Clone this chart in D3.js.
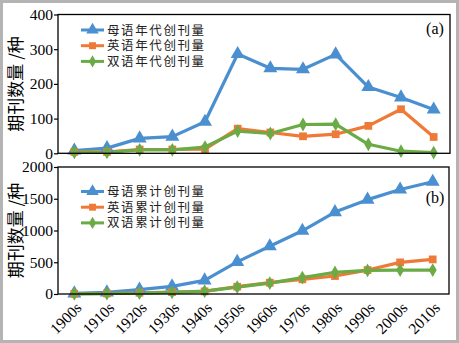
<!DOCTYPE html>
<html>
<head>
<meta charset="utf-8">
<script src="https://cdn.jsdelivr.net/npm/d3@7"></script>
<style>
  html, body { margin: 0; padding: 0; background: #fff; }
  svg { display: block; }
  .num { font-family: "Liberation Serif", "Times New Roman", "DejaVu Serif", serif; }
  .cjk { font-family: "Noto Sans CJK SC", sans-serif; }
</style>
</head>
<body>
<script>
// Decades on the shared x axis
const decades = ["1900s","1910s","1920s","1930s","1940s","1950s","1960s","1970s","1980s","1990s","2000s","2010s"];

// (a) journals founded per decade
const nativePerDecade    = [8, 15, 43, 48, 91, 286, 245, 242, 285, 191, 161, 126];
const englishPerDecade   = [4, 4, 11, 11, 12, 71, 60, 49, 55, 79, 127, 47];
const bilingualPerDecade = [3, 3, 10, 10, 18, 64, 57, 83, 84, 26, 6, 2];

// (b) cumulative journals founded
const nativeCumulative    = [10, 25, 70, 120, 215, 505, 752, 995, 1290, 1486, 1645, 1768];
const englishCumulative   = [4, 8, 19, 30, 42, 115, 178, 231, 283, 377, 498, 545];
const bilingualCumulative = [3, 6, 16, 26, 44, 108, 172, 258, 340, 372, 376, 377];

const ticksA = [0, 100, 200, 300, 400];
const ticksB = [0, 500, 1000, 1500, 2000];

const namesA = ["母语年代创刊量", "英语年代创刊量", "双语年代创刊量"];
const namesB = ["母语累计创刊量", "英语累计创刊量", "双语累计创刊量"];

const colors  = ["#4a8fd0", "#ef7a37", "#6aab45"];
const symbols = [d3.symbolTriangle, d3.symbolSquare, d3.symbolDiamond];
const symSize = [85, 60, 55];

const W = 459, H = 343;

const svg = d3.select("body").append("svg").attr("width", W).attr("height", H);

// outer grey frame
svg.append("rect").attr("x", 1.5).attr("y", 1.5).attr("width", W - 3).attr("height", H - 3)
  .attr("fill", "#fff").attr("stroke", "#b4b4b4").attr("stroke-width", 3);

function panel(opts) {
  const { left, right, top, bottom, max, ticks, series, names, tag, tagY, legendY, showX } = opts;
  const x = d3.scalePoint().domain(decades).range([left, right]).padding(0.5);
  const y = d3.scaleLinear().domain([0, max]).range([bottom, top]);
  const g = svg.append("g");

  // y axis
  const ya = g.append("g").attr("transform", `translate(${left},0)`)
    .call(d3.axisLeft(y).tickValues(ticks).tickSize(4).tickPadding(1).tickFormat(d3.format("d")));
  ya.attr("font-family", null).attr("font-size", null);
  ya.select(".domain").remove();
  ya.selectAll("line").attr("stroke", "#000").attr("stroke-width", 1.2);
  ya.selectAll("text").attr("class", "num").attr("font-size", 15.5).attr("fill", "#000");

  // x axis
  const xa = g.append("g").attr("transform", `translate(0,${bottom})`)
    .call(d3.axisBottom(x).tickSize(0).tickPadding(0));
  xa.attr("font-family", null).attr("font-size", null);
  xa.select(".domain").remove();
  if (showX) {
    xa.selectAll("text")
      .attr("class", "num").attr("font-size", 15.5).attr("fill", "#000")
      .attr("text-anchor", "end")
      .attr("dy", "0.35em")
      .attr("transform", "translate(4,11) rotate(-45)");
  } else {
    xa.selectAll("text").remove();
  }

  // lines and markers
  const line = d3.line().x((d, i) => x(decades[i])).y(d => y(d));
  series.forEach((vals, s) => {
    g.append("path").datum(vals).attr("d", line)
      .attr("fill", "none").attr("stroke", colors[s]).attr("stroke-width", 3.2)
      .attr("stroke-linejoin", "round");
  });
  series.forEach((vals, s) => {
    g.selectAll(null).data(vals).enter().append("path")
      .attr("transform", (d, i) => `translate(${x(decades[i])},${y(d)})`)
      .attr("d", d3.symbol().type(symbols[s]).size(symSize[s]))
      .attr("fill", colors[s]);
  });

  // frame
  g.append("rect").attr("x", left).attr("y", top).attr("width", right - left).attr("height", bottom - top)
    .attr("fill", "none").attr("stroke", "#000").attr("stroke-width", 1.3);

  // legend
  names.forEach((n, s) => {
    const ly = legendY + s * 15.7;
    g.append("line").attr("x1", 81).attr("x2", 104).attr("y1", ly).attr("y2", ly)
      .attr("stroke", colors[s]).attr("stroke-width", 3);
    g.append("path").attr("transform", `translate(92.5,${ly})`)
      .attr("d", d3.symbol().type(symbols[s]).size(symSize[s] * 0.8)).attr("fill", colors[s]);
    g.append("text").attr("class", "cjk").attr("x", 107).attr("y", ly).attr("dy", "0.36em")
      .attr("font-size", 12.5).attr("letter-spacing", 1.6).attr("fill", "#222").text(n);
  });

  // panel tag
  g.append("text").attr("class", "num").attr("x", 435).attr("y", tagY)
    .attr("text-anchor", "middle").attr("dy", "0.35em")
    .attr("font-size", 16).attr("fill", "#000").text(tag);

  // y title
  g.append("text").attr("class", "cjk")
    .attr("transform", `translate(16,${(top + bottom) / 2}) rotate(-90)`)
    .attr("text-anchor", "middle").attr("dy", "0.35em")
    .attr("font-size", 17).attr("fill", "#000")
    .text("期刊数量 /种");
}

panel({
  left: 58, right: 450, top: 14.5, bottom: 153.3, max: 400, ticks: ticksA,
  series: [nativePerDecade, englishPerDecade, bilingualPerDecade],
  names: namesA, tag: "(a)", tagY: 28, legendY: 30, showX: false
});

panel({
  left: 58, right: 449, top: 167, bottom: 294, max: 2000, ticks: ticksB,
  series: [nativeCumulative, englishCumulative, bilingualCumulative],
  names: namesB, tag: "(b)", tagY: 197, legendY: 191.5, showX: true
});
</script>
</body>
</html>
